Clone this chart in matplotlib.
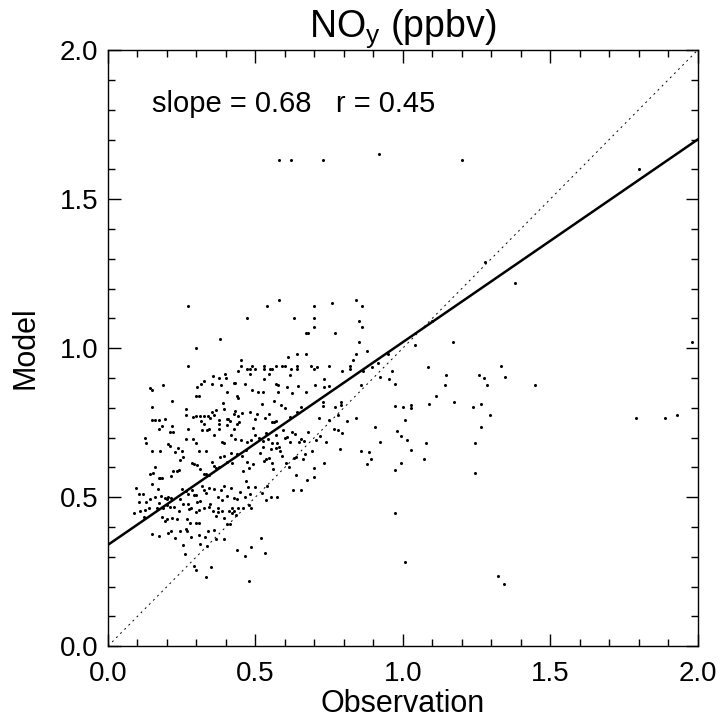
import matplotlib
matplotlib.use('Agg')
import matplotlib.pyplot as plt
from matplotlib.ticker import MultipleLocator

plt.rcParams['font.family'] = ['Liberation Sans', 'DejaVu Sans']

# NOy observation vs model (ppbv)
obs = [
    # upper part (model > 0.86)
    0.58, 0.62, 0.73, 0.92, 1.20, 1.80, 1.28, 1.38, 1.17, 1.98, 1.10, 0.27,
    0.58, 0.54, 0.70, 0.76, 0.84, 0.86, 0.63, 0.47, 0.70, 0.85, 0.70, 0.86,
    0.67, 0.68, 0.77, 0.38, 0.85, 0.30, 1.04, 0.84, 0.88, 0.83, 0.95, 0.64,
    0.67, 0.27, 0.45, 0.45, 0.47, 0.48, 0.49, 0.50, 0.53, 0.53, 0.55, 0.555,
    0.57, 0.59, 0.60, 0.61, 0.62, 0.64, 0.64, 0.69, 0.70, 0.71, 0.75, 0.82,
    0.82, 0.865, 0.916, 0.895, 0.964, 0.795, 1.085, 1.146, 1.258, 1.334, 1.276, 1.345,
    0.441, 0.481, 0.545, 0.618, 0.529, 0.923, 0.954, 0.356, 0.378, 0.401, 0.396, 0.353,
    0.326, 0.315, 0.384, 0.426, 0.431, 0.464, 0.569, 0.577, 0.606, 0.643, 0.703, 0.732,
    0.734, 0.750, 0.858, 0.973, 1.143, 1.447, 0.186, 0.143, 0.301,
    # main cluster
    0.150, 0.216, 0.297, 0.309, 0.405, 0.437, 0.441, 0.488, 0.508, 0.526, 0.578, 0.625,
    0.673, 0.564, 0.521, 0.728, 0.790, 0.770, 0.149, 0.148, 0.160, 0.174, 0.192, 0.266,
    0.264, 0.287, 0.300, 0.312, 0.316, 0.325, 0.340, 0.347, 0.354, 0.360, 0.365, 0.376,
    0.389, 0.395, 0.402, 0.407, 0.414, 0.426, 0.431, 0.442, 0.445, 0.480, 0.455, 0.497,
    0.506, 0.534, 0.547, 0.556, 0.564, 0.571, 0.586, 0.600, 0.616, 0.640, 0.655, 0.716,
    0.729, 0.749, 0.780, 0.790, 0.812, 0.840, 0.973,
    0.124, 0.130, 0.150, 0.175, 0.173, 0.184, 0.216, 0.211, 0.222, 0.204, 0.209, 0.227,
    0.239, 0.252, 0.264, 0.271, 0.289, 0.298, 0.307, 0.318, 0.324, 0.332, 0.335, 0.344,
    0.360, 0.375, 0.378, 0.387, 0.395, 0.404, 0.416, 0.429, 0.430, 0.438, 0.451, 0.467,
    0.473, 0.484, 0.493, 0.499, 0.512, 0.526, 0.526, 0.537, 0.542, 0.552, 0.556, 0.570,
    0.574, 0.585, 0.594, 0.600, 0.608, 0.616, 0.623, 0.634, 0.649, 0.654, 0.666, 0.678,
    0.691, 0.707, 0.718, 0.731, 0.740, 0.767, 0.781, 0.787, 0.793, 0.905, 0.922, 0.979,
    0.143, 0.153, 0.159, 0.178, 0.214, 0.222, 0.233, 0.242, 0.245, 0.255, 0.286, 0.292,
    0.301, 0.312, 0.325, 0.334, 0.341, 0.354, 0.361, 0.366, 0.378, 0.381, 0.392, 0.402,
    0.416, 0.421, 0.439, 0.456, 0.459, 0.472, 0.479, 0.491, 0.515, 0.528, 0.536, 0.546,
    0.556, 0.558, 0.571, 0.580, 0.591, 0.605, 0.613, 0.631, 0.639, 0.661, 0.669, 0.699,
    0.857, 0.877, 0.885, 0.891, 0.972,
    0.095, 0.105, 0.106, 0.120, 0.129, 0.142, 0.150, 0.160, 0.170, 0.173, 0.182, 0.181,
    0.192, 0.201, 0.205, 0.213, 0.244, 0.251, 0.263, 0.272, 0.273, 0.284, 0.290, 0.299,
    0.302, 0.312, 0.318, 0.325, 0.333, 0.342, 0.347, 0.359, 0.374, 0.383, 0.385, 0.392,
    0.405, 0.416, 0.427, 0.436, 0.448, 0.463, 0.467, 0.476, 0.480, 0.500, 0.523, 0.536,
    0.538, 0.552, 0.572, 0.629, 0.654, 0.639, 0.676, 0.699,
    0.089, 0.107, 0.125, 0.139, 0.165, 0.172, 0.187, 0.200, 0.210, 0.223, 0.240, 0.255,
    0.275, 0.283, 0.298, 0.307, 0.325, 0.342, 0.356, 0.372, 0.386, 0.411, 0.419, 0.429,
    0.441, 0.458, 0.484, 0.479, 0.972, 0.194, 0.184, 0.200, 0.216, 0.235, 0.269, 0.278,
    0.299, 0.308, 0.365, 0.374, 0.393, 0.419, 0.435, 0.123,
    # lower tail
    0.149, 0.174, 0.202, 0.214, 0.227, 0.244, 0.263, 0.267, 0.283, 0.309, 0.330, 0.340,
    0.360, 0.367, 0.392, 0.404, 0.415, 0.253, 0.260, 0.312, 0.335, 0.437, 0.465, 0.486,
    0.519, 0.533, 0.292, 0.300, 0.332, 0.348, 0.477,
    # high observations
    1.285, 1.111, 1.000, 1.026, 1.026, 1.088, 1.172, 1.238, 1.265, 1.294, 1.007, 0.993,
    1.014, 1.079, 1.244, 1.264, 1.029, 1.071, 0.993, 1.245, 1.009, 1.324, 1.342, 1.791,
    1.889, 1.930,
]
model = [
    1.63, 1.63, 1.63, 1.65, 1.63, 1.60, 1.29, 1.22, 1.02, 1.02, 1.09, 1.14,
    1.16, 1.14, 1.14, 1.15, 1.16, 1.14, 1.10, 1.10, 1.10, 1.09, 1.07, 1.07,
    1.05, 1.05, 1.05, 1.03, 1.02, 1.00, 1.01, 0.98, 0.99, 0.96, 0.98, 0.98,
    0.98, 0.94, 0.96, 0.94, 0.93, 0.93, 0.94, 0.93, 0.94, 0.93, 0.93, 0.93,
    0.94, 0.94, 0.94, 0.97, 0.93, 0.93, 0.94, 0.94, 0.93, 0.935, 0.94, 0.94,
    0.93, 0.924, 0.95, 0.935, 0.922, 0.922, 0.935, 0.911, 0.911, 0.939, 0.901, 0.902,
    0.922, 0.912, 0.913, 0.909, 0.896, 0.902, 0.896, 0.906, 0.900, 0.901, 0.914, 0.879,
    0.888, 0.879, 0.876, 0.884, 0.884, 0.878, 0.881, 0.877, 0.868, 0.874, 0.877, 0.896,
    0.868, 0.874, 0.876, 0.879, 0.876, 0.877, 0.876, 0.866, 0.868,
    0.860, 0.824, 0.840, 0.840, 0.852, 0.841, 0.833, 0.858, 0.854, 0.854, 0.854, 0.848,
    0.854, 0.822, 0.812, 0.820, 0.820, 0.801, 0.802, 0.760, 0.760, 0.760, 0.763, 0.796,
    0.777, 0.769, 0.771, 0.771, 0.755, 0.773, 0.772, 0.767, 0.785, 0.777, 0.793, 0.758,
    0.815, 0.796, 0.763, 0.762, 0.757, 0.778, 0.790, 0.772, 0.752, 0.786, 0.783, 0.761,
    0.779, 0.766, 0.779, 0.753, 0.751, 0.756, 0.808, 0.799, 0.768, 0.784, 0.803, 0.765,
    0.805, 0.760, 0.774, 0.808, 0.757, 0.766, 0.805,
    0.700, 0.681, 0.656, 0.656, 0.729, 0.737, 0.737, 0.720, 0.720, 0.678, 0.673, 0.650,
    0.664, 0.655, 0.695, 0.728, 0.696, 0.683, 0.654, 0.726, 0.744, 0.656, 0.724, 0.727,
    0.709, 0.730, 0.744, 0.684, 0.683, 0.742, 0.709, 0.729, 0.694, 0.747, 0.693, 0.659,
    0.686, 0.691, 0.733, 0.708, 0.700, 0.688, 0.669, 0.714, 0.694, 0.663, 0.682, 0.708,
    0.682, 0.655, 0.726, 0.699, 0.701, 0.685, 0.720, 0.711, 0.684, 0.695, 0.687, 0.717,
    0.656, 0.693, 0.705, 0.615, 0.684, 0.730, 0.726, 0.660, 0.714, 0.734, 0.684, 0.721,
    0.579, 0.582, 0.602, 0.565, 0.571, 0.586, 0.588, 0.590, 0.625, 0.635, 0.613, 0.610,
    0.608, 0.596, 0.578, 0.579, 0.573, 0.617, 0.606, 0.597, 0.602, 0.633, 0.639, 0.618,
    0.648, 0.616, 0.646, 0.638, 0.586, 0.617, 0.599, 0.612, 0.647, 0.620, 0.628, 0.632,
    0.615, 0.596, 0.666, 0.669, 0.639, 0.616, 0.600, 0.631, 0.636, 0.628, 0.645, 0.598,
    0.655, 0.612, 0.650, 0.628, 0.590,
    0.529, 0.511, 0.484, 0.511, 0.484, 0.494, 0.545, 0.500, 0.528, 0.564, 0.565, 0.503,
    0.498, 0.493, 0.500, 0.498, 0.495, 0.528, 0.519, 0.511, 0.477, 0.524, 0.508, 0.507,
    0.483, 0.488, 0.539, 0.523, 0.515, 0.529, 0.477, 0.526, 0.501, 0.523, 0.489, 0.538,
    0.504, 0.529, 0.498, 0.493, 0.516, 0.501, 0.555, 0.534, 0.511, 0.534, 0.515, 0.489,
    0.536, 0.501, 0.500, 0.524, 0.523, 0.574, 0.559, 0.569,
    0.446, 0.453, 0.456, 0.462, 0.464, 0.481, 0.462, 0.474, 0.466, 0.468, 0.454, 0.477,
    0.460, 0.465, 0.451, 0.456, 0.463, 0.468, 0.454, 0.465, 0.455, 0.455, 0.462, 0.452,
    0.463, 0.463, 0.464, 0.472, 0.447, 0.420, 0.433, 0.426, 0.429, 0.428, 0.428, 0.412,
    0.412, 0.413, 0.438, 0.449, 0.431, 0.446, 0.441, 0.432,
    0.377, 0.368, 0.380, 0.385, 0.362, 0.386, 0.393, 0.385, 0.366, 0.374, 0.365, 0.387,
    0.389, 0.360, 0.359, 0.409, 0.410, 0.340, 0.309, 0.342, 0.336, 0.323, 0.301, 0.333,
    0.362, 0.314, 0.269, 0.257, 0.231, 0.264, 0.220,
    0.875, 0.841, 0.802, 0.810, 0.798, 0.811, 0.819, 0.804, 0.811, 0.775, 0.758, 0.705,
    0.693, 0.683, 0.683, 0.734, 0.658, 0.629, 0.615, 0.582, 0.283, 0.236, 0.210, 0.767,
    0.767, 0.775,
]

slope = 0.68
intercept = 0.34
r_value = 0.45
axis_range = [0.0, 2.0]

fig = plt.figure(figsize=(7.2, 7.26), dpi=100)
ax = fig.add_axes([0.15, 0.11, 0.819, 0.821])

ax.plot(obs, model, 'o', color='black', markersize=2.2, markeredgewidth=0)
ax.plot(axis_range, axis_range, color='black', lw=0.7, linestyle=(0, (2, 4)))
ax.plot(axis_range, [intercept + slope * v for v in axis_range], color='black', lw=1.8)

ax.set_xlim(axis_range)
ax.set_ylim(axis_range)
ax.xaxis.set_major_locator(MultipleLocator(0.5))
ax.yaxis.set_major_locator(MultipleLocator(0.5))
ax.xaxis.set_minor_locator(MultipleLocator(0.1))
ax.yaxis.set_minor_locator(MultipleLocator(0.1))
ax.xaxis.set_major_formatter(plt.FormatStrFormatter('%.1f'))
ax.yaxis.set_major_formatter(plt.FormatStrFormatter('%.1f'))
ax.tick_params(which='both', direction='in', top=True, right=True, width=1.0,
               labelsize=20)
ax.tick_params(which='major', length=9, pad=7)
ax.tick_params(axis='x', which='major', pad=11)
ax.tick_params(which='minor', length=5)
for s in ax.spines.values():
    s.set_linewidth(1.0)

ax.set_xlabel('Observation', fontsize=22, labelpad=1)
ax.set_ylabel('Model', fontsize=22, labelpad=14)
ax.set_title('NO$_\\mathregular{y}$ (ppbv)', fontsize=27, pad=2)
ax.text(0.15, 1.82, f'slope = {slope:.2f}   r = {r_value:.2f}', fontsize=21,
        va='center', ha='left')

fig.savefig('out.png', dpi=100)
